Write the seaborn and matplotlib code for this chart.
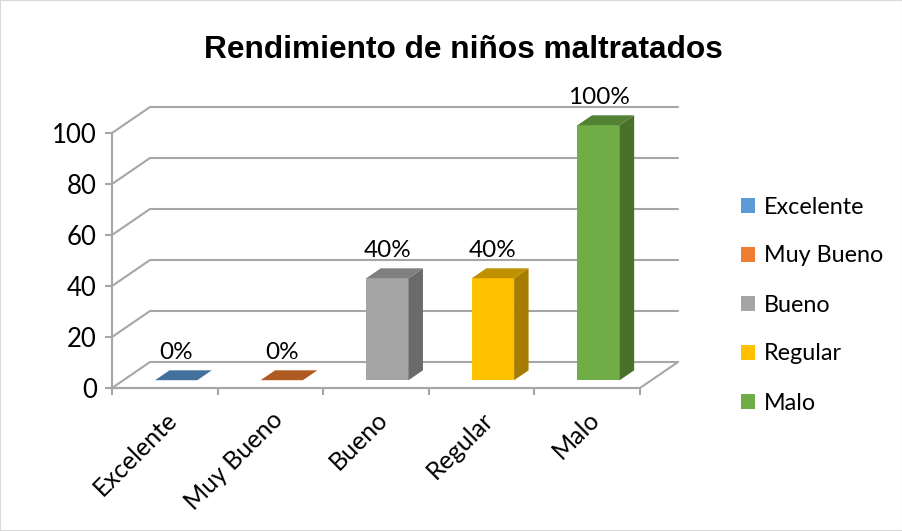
import numpy as np
import matplotlib
matplotlib.use('Agg')
import matplotlib.pyplot as plt
import seaborn as sns
from matplotlib.patches import Polygon, Patch, Rectangle

categories = ['Excelente', 'Muy Bueno', 'Bueno', 'Regular', 'Malo']
values     = [0, 0, 40, 40, 100]
labels     = ['0%', '0%', '40%', '40%', '100%']
yticks     = [0, 20, 40, 60, 80, 100]

front_colors = ['#5B9BD5', '#ED7D31', '#A5A5A5', '#FFC000', '#70AD47']
top_colors   = ['#41719C', '#AE5A21', '#7F7F7F', '#BF9000', '#548235']
side_colors  = ['#41719C', '#AE5A21', '#6B6B6B', '#A67C00', '#4A7129']

GRID = '#A6A6A6'
DEPTH_PX = (38, 26)      # depth vector of the 3D box, in pixels
F0, F1 = 0.30, 0.68      # bar front / back position inside the depth

sns.set_theme(style='white')
plt.rcParams['font.family'] = ['Lato', 'DejaVu Sans']
plt.rcParams['text.color'] = 'black'
plt.rcParams['xtick.color'] = 'black'
plt.rcParams['ytick.color'] = 'black'

fig = plt.figure(figsize=(9.03, 5.31), dpi=100)
ax = fig.add_axes([112 / 903, 1 - 388 / 531, 528 / 903, 255 / 531])

sns.barplot(x=categories, y=values, hue=categories, palette=front_colors,
            width=0.4, legend=False, ax=ax, saturation=1, zorder=3)
ax.set_xlim(-0.5, 4.5)
ax.set_ylim(0, 100)

# depth vector in data units
p0 = ax.transData.transform((0, 0))
p1 = ax.transData.transform((1, 1))
ddx = DEPTH_PX[0] / (p1[0] - p0[0])
ddy = DEPTH_PX[1] / (p1[1] - p0[1])

# back wall gridlines + left wall diagonals + floor
for v in yticks:
    ax.plot([-0.5, -0.5 + ddx, 4.5 + ddx], [v, v + ddy, v + ddy],
            color=GRID, lw=1.5, clip_on=False, zorder=1)
ax.plot([-0.5, 4.5, 4.5 + ddx], [0, 0, ddy], color=GRID, lw=1.5,
        clip_on=False, zorder=2)

# shift bars into the depth and add top / side faces
t = F1 - F0
for i, patch in enumerate(ax.patches):
    x = patch.get_x() + F0 * ddx
    w = patch.get_width()
    h = patch.get_height()
    y = F0 * ddy
    patch.set_x(x)
    patch.set_y(y)
    patch.set_edgecolor('none')
    patch.set_clip_on(False)
    top = [(x, y + h), (x + w, y + h), (x + w + t * ddx, y + h + t * ddy),
           (x + t * ddx, y + h + t * ddy)]
    side = [(x + w, y), (x + w, y + h), (x + w + t * ddx, y + h + t * ddy),
            (x + w + t * ddx, y + t * ddy)]
    ax.add_patch(Polygon(side, closed=True, facecolor=side_colors[i],
                         edgecolor='none', clip_on=False, zorder=3))
    ax.add_patch(Polygon(top, closed=True, facecolor=top_colors[i],
                         edgecolor='none', clip_on=False, zorder=4))
    ax.annotate(labels[i], (x + w / 2, y + h), xytext=(0, 28),
                textcoords='offset pixels', ha='center', va='center',
                fontsize=17.5, color='black', zorder=5, annotation_clip=False)

# axes styling
sns.despine(ax=ax, top=True, right=True)
for s in ['left', 'bottom']:
    ax.spines[s].set_color(GRID)
    ax.spines[s].set_linewidth(1.5)
ax.set_yticks(yticks)
ax.tick_params(axis='y', direction='out', length=5, width=1.5, color=GRID,
               labelsize=18.5, labelcolor='black', pad=6, left=True)
ax.set_xticks(range(len(categories)))
ax.set_xticklabels(categories, rotation=45, ha='right', rotation_mode='anchor',
                   fontsize=18)
ax.tick_params(axis='x', length=0, pad=14, labelcolor='black')
ax.set_xticks(np.arange(-0.5, 5, 1), minor=True)
ax.tick_params(axis='x', which='minor', direction='out', length=5, width=1.5,
               color=GRID, bottom=True)
ax.set_xlabel('')
ax.set_ylabel('')
ax.grid(False)

fig.suptitle('Rendimiento de niños maltratados', x=463 / 903, y=1 - 50 / 531,
             va='center', fontsize=22.8, fontweight='bold', color='black',
             family='Liberation Sans')

handles = [Patch(facecolor=c, edgecolor='none') for c in front_colors]
fig.legend(handles, categories, loc='center left',
           bbox_to_anchor=(720 / 903, 1 - 305 / 531), frameon=False,
           fontsize=16.8, handlelength=0.6, handleheight=0.6, handletextpad=0.4,
           labelspacing=1.2)

fig.patches.append(Rectangle((0, 0), 1, 1, transform=fig.transFigure,
                             fill=False, edgecolor='#D9D9D9', lw=1.5))

fig.savefig('out.png', dpi=100)
